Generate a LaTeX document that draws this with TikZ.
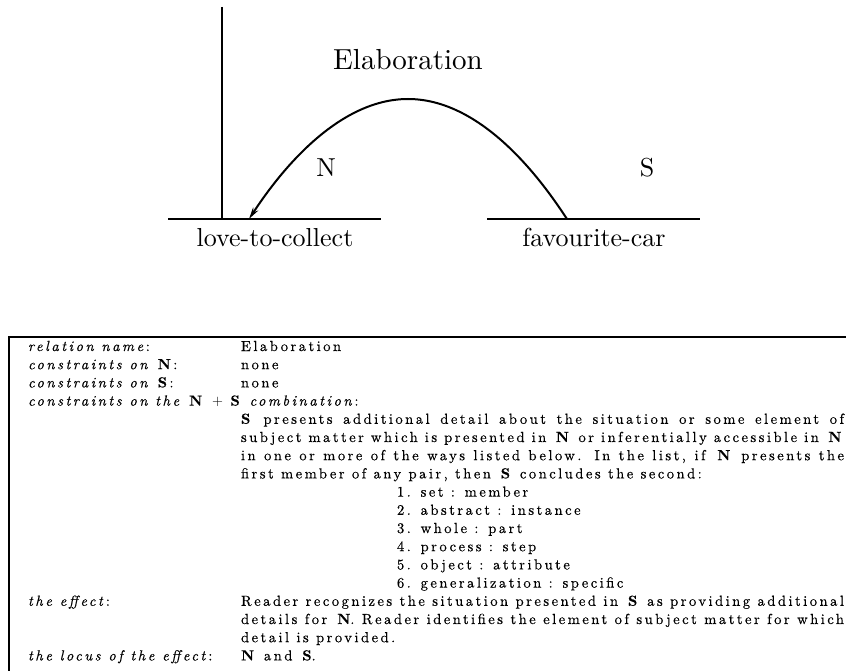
\documentclass[tikz,border=0pt]{standalone}
\usepackage{fontspec}
\usepackage{tikz}
\usetikzlibrary{arrows.meta}

\setmainfont{lmroman10-regular.otf}[ItalicFont=lmroman10-italic.otf,
  BoldFont=lmroman10-bold.otf]
\newfontfamily\tabfont{lmroman10-regular.otf}[LetterSpace=17, FakeBold=0.4,
  ItalicFont=lmroman10-italic.otf, BoldFont=lmroman10-bold.otf]
\newcommand{\tabsize}{\fontsize{14.6}{18.2}\selectfont}
\newcommand{\nuc}{\textbf{N}}
\newcommand{\sat}{\textbf{S}}

\tikzset{
  seglabel/.style={font=\fontsize{26}{30}\selectfont, anchor=base, inner sep=0pt},
  rowlabel/.style={font=\tabsize\tabfont, anchor=base west, inner sep=0pt},
  rowtext/.style={font=\tabsize\tabfont, anchor=base west, inner sep=0pt},
  paratext/.style={rowtext, text width=603pt, align=justify},
}

\begin{document}
\begin{tikzpicture}[x=1pt, y=-1pt, line width=2pt]
  \useasboundingbox (0,0) rectangle (846,671);

  % the RST schema
  \coordinate (spantop) at (222,7);
  \coordinate (spanfoot) at (222,219);
  \coordinate (nleft) at (168,219);
  \coordinate (nright) at (381,219);
  \coordinate (sleft) at (487,219);
  \coordinate (sright) at (700,219);
  \coordinate (nfoot) at (249,219);
  \coordinate (sfoot) at (567,219);
  \coordinate (bend) at (408,99);

  \draw (spantop) -- (spanfoot);
  \draw (nleft) -- (nright);
  \draw (sleft) -- (sright);
  \draw[-{Stealth[length=12pt, width=6pt]}] (sfoot) parabola bend (bend) (nfoot);

  \node[seglabel, font=\fontsize{29}{34}\selectfont] (relname) at (408,70) {Elaboration};
  \node[seglabel] (nlabel) at (326,177) {N};
  \node[seglabel] (slabel) at (647,177) {S};
  \node[seglabel] (nunit) at (275,247) {love-to-collect};
  \node[seglabel] (sunit) at (594,247) {favourite-car};

  % the definition table
  \coordinate (tabtl) at (9,337);
  \coordinate (tabtr) at (846,337);
  \coordinate (tabbl) at (9,671);
  \draw[line width=2.2pt] (tabtr) -- (tabtl) -- (tabbl);

  \foreach \r/\txt in {1/{\textit{relation name}:},
                       2/{\textit{constraints on} \nuc:},
                       3/{\textit{constraints on} \sat:},
                       4/{\textit{constraints on the} \nuc\ $+$ \sat\ \textit{combination}:},
                       15/{\textit{the effect}:},
                       18/{\textit{the locus of the effect}:}} {
    \node[rowlabel] (lab\r) at (27,{332.8+18.2*\r}) {\txt};
  }

  \foreach \r/\txt in {1/Elaboration, 2/none, 3/none, 18/{\nuc\ and \sat.}} {
    \node[rowtext] (val\r) at (240,{332.8+18.2*\r}) {\txt};
  }

  \node[paratext] (combo) at (240,{332.8+18.2*5})
    {\sat\ presents additional detail about the situation or some element of\linebreak
     subject matter which is presented in \nuc\ or inferentially accessible in \nuc\linebreak
     in one or more of the ways listed below. In the list, if \nuc\ presents the\linebreak
     first member of any pair, then \sat\ concludes the second:};

  \foreach \r/\txt in {9/{1. set : member}, 10/{2. abstract : instance},
                       11/{3. whole : part}, 12/{4. process : step},
                       13/{5. object : attribute}, 14/{6. generalization : specific}} {
    \node[rowtext] (item\r) at (396,{332.8+18.2*\r}) {\txt};
  }

  \node[paratext] (effect) at (240,{332.8+18.2*15})
    {Reader recognizes the situation presented in \sat\ as providing additional\linebreak
     details for \nuc. Reader identifies the element of subject matter for which\linebreak
     detail is provided.};
\end{tikzpicture}
\end{document}
